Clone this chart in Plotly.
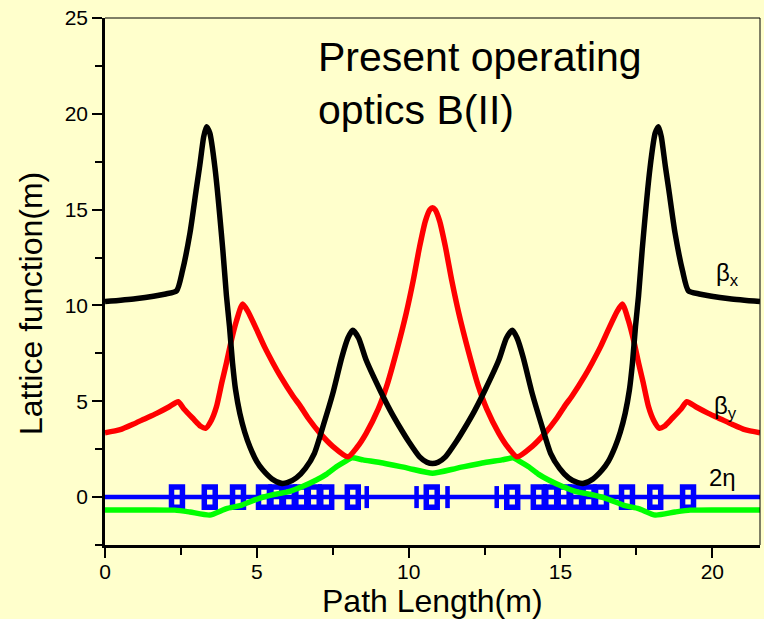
import plotly.graph_objects as go

# ---------------- data ----------------
bx_s = [0, 1.0, 2.0, 2.36, 2.55, 2.8, 3.0, 3.12, 3.25, 3.34, 3.45, 3.62, 3.88, 4.0, 4.1, 4.2, 4.3, 4.44, 4.6,
        4.77, 5.0, 5.2, 5.5, 5.8, 6.0, 6.3, 6.6, 6.9, 7.2, 7.5, 7.8, 8.0, 8.16, 8.35, 8.6, 9.05, 9.4, 9.7, 10.0,
        10.36, 10.6, 10.785, 10.97, 11.21, 11.57, 11.87, 12.17, 12.52, 12.97, 13.22, 13.41, 13.57, 13.77, 14.07,
        14.37, 14.67, 14.97, 15.27, 15.57, 15.77, 16.07, 16.37, 16.57, 16.80, 16.97, 17.13, 17.27, 17.37, 17.47,
        17.57, 17.69, 17.95, 18.12, 18.23, 18.32, 18.45, 18.57, 18.77, 19.02, 19.21, 19.57, 20.57, 21.57]
beta_x = [10.2, 10.35, 10.6, 10.77, 11.8, 13.8, 16.0, 17.3, 18.8, 19.33, 19.0, 17.2, 12.9, 10.5, 8.9, 7.0, 5.6,
          4.37, 3.4, 2.63, 1.85, 1.41, 0.95, 0.72, 0.75, 1.0, 1.5, 2.3, 3.8, 5.4, 7.3, 8.3, 8.7, 8.3, 7.15, 5.6,
          4.5, 3.67, 2.9, 2.1, 1.82, 1.75, 1.82, 2.1, 2.9, 3.67, 4.5, 5.6, 7.15, 8.3, 8.7, 8.3, 7.3, 5.4, 3.8,
          2.3, 1.5, 1.0, 0.75, 0.72, 0.95, 1.41, 1.85, 2.63, 3.4, 4.37, 5.6, 7.0, 8.9, 10.5, 12.9, 17.2, 19.0,
          19.33, 18.8, 17.3, 16.0, 13.8, 11.8, 10.77, 10.6, 10.35, 10.2]

by_s = [0, 0.5, 0.92, 1.3, 1.7, 2.1, 2.41, 2.6, 2.9, 3.15, 3.32, 3.5, 3.67, 3.85, 4.0, 4.15, 4.33, 4.53, 4.7,
        4.99, 5.25, 5.53, 5.76, 6.2, 6.41, 6.7, 7.07, 7.5, 8.0, 8.3, 8.6, 9.0, 9.27, 9.6, 9.92, 10.15, 10.36,
        10.55, 10.7, 10.785, 10.87, 11.02, 11.21, 11.42, 11.65, 11.97, 12.30, 12.57, 12.97, 13.27, 13.57, 14.07,
        14.50, 14.87, 15.16, 15.37, 15.81, 16.04, 16.32, 16.58, 16.87, 17.04, 17.24, 17.42, 17.57, 17.72, 17.90,
        18.07, 18.25, 18.42, 18.67, 18.97, 19.16, 19.47, 19.87, 20.27, 20.65, 21.07, 21.57]
beta_y = [3.36, 3.52, 3.8, 4.08, 4.37, 4.7, 4.98, 4.6, 4.1, 3.7, 3.6, 4.0, 4.71, 6.0, 7.0, 8.1, 9.2, 10.07, 9.7,
          8.75, 7.85, 7.0, 6.35, 5.25, 4.8, 4.1, 3.35, 2.65, 2.1, 2.6, 3.33, 4.6, 5.76, 7.6, 9.6, 11.3, 13.06, 14.4,
          15.0, 15.1, 15.0, 14.4, 13.06, 11.3, 9.6, 7.6, 5.76, 4.6, 3.33, 2.6, 2.1, 2.65, 3.35, 4.1, 4.8, 5.25,
          6.35, 7.0, 7.85, 8.75, 9.7, 10.07, 9.2, 8.1, 7.0, 6.0, 4.71, 4.0, 3.6, 3.7, 4.1, 4.6, 4.98, 4.7, 4.37,
          4.08, 3.8, 3.52, 3.36]

eta_s = [0, 2.3, 2.8, 3.45, 4.0, 4.44, 5.1, 5.6, 6.08, 6.5, 6.96, 7.3, 7.62, 7.9, 8.13, 8.5, 9.15, 10.0, 10.785,
         11.57, 12.42, 13.07, 13.44, 13.67, 13.95, 14.27, 14.61, 15.07, 15.49, 15.97, 16.47, 17.13, 17.57, 18.12,
         18.77, 19.27, 21.57]
eta = [-0.68, -0.68, -0.78, -0.94, -0.6, -0.45, -0.05, 0.15, 0.3, 0.55, 0.89, 1.2, 1.58, 1.85, 2.05, 1.94, 1.78,
       1.5, 1.25, 1.5, 1.78, 1.94, 2.05, 1.85, 1.58, 1.2, 0.89, 0.55, 0.3, 0.15, -0.05, -0.45, -0.6, -0.94, -0.78,
       -0.68, -0.68]

axis_s = [0, 21.57]
axis_v = [0, 0]

# lattice elements (blue): boxes and thin bars
box_s = [2.37, 3.45, 4.38, 5.235, 5.645, 6.055, 6.465, 6.875, 7.285, 8.16, 10.76, 13.41,
         14.285, 14.695, 15.105, 15.515, 15.925, 16.335, 17.19, 18.12, 19.2]
bar_s = [8.62, 10.26, 11.28, 12.9]

x_ticks = [0, 5, 10, 15, 20]
y_ticks = [0, 5, 10, 15, 20, 25]

BG = "#FFFFCC"
BLUE = "#0000FF"

fig = go.Figure()

fig.add_trace(go.Scatter(x=axis_s, y=axis_v, mode="lines",
                         line=dict(color=BLUE, width=4.5), showlegend=False))
fig.add_trace(go.Bar(x=box_s, y=[1.05] * len(box_s), base=-0.525, width=0.36,
                     marker=dict(color="rgba(0,0,0,0)", line=dict(color=BLUE, width=5.5)),
                     showlegend=False))
fig.add_trace(go.Bar(x=bar_s, y=[1.15] * len(bar_s), base=-0.575, width=0.15,
                     marker=dict(color=BLUE, line=dict(width=0)), showlegend=False))
fig.add_trace(go.Scatter(x=eta_s, y=eta, mode="lines", line=dict(color="#00FF00", width=5.5, shape="spline", smoothing=0.5),
                         showlegend=False))
fig.add_trace(go.Scatter(x=by_s, y=beta_y, mode="lines", line=dict(color="#FF0000", width=5.5, shape="spline", smoothing=0.6),
                         showlegend=False))
fig.add_trace(go.Scatter(x=bx_s, y=beta_x, mode="lines", line=dict(color="#000000", width=5.5, shape="spline", smoothing=0.6),
                         showlegend=False))

axis_common = dict(showgrid=False, zeroline=False, showline=True, linecolor="black", linewidth=2.5,
                   ticks="outside", tickcolor="black", tickwidth=2, ticklen=10)
minor = dict(ticks="outside", ticklen=7, tickwidth=2, tickcolor="black", dtick=2.5, tick0=0)

fig.update_layout(
    width=764, height=619,
    margin=dict(l=105, r=4, t=18, b=74),
    paper_bgcolor=BG, plot_bgcolor=BG,
    barmode="overlay",
    font=dict(family="Arial, Liberation Sans, sans-serif", color="black"),
    xaxis=dict(range=[0, 21.57], tickvals=x_ticks, tickfont=dict(size=21), ticklabelstandoff=-4,
               minor=minor, **axis_common),
    yaxis=dict(range=[-2.5, 25], tickvals=y_ticks, tickfont=dict(size=21), minor=minor, **axis_common),
    shapes=[
        dict(type="line", xref="paper", yref="paper", x0=0, x1=1, y0=1, y1=1, line=dict(color="black", width=1)),
        dict(type="line", xref="paper", yref="paper", x0=1, x1=1, y0=0, y1=1, line=dict(color="black", width=1)),
    ],
    annotations=[
        dict(text="Present operating<br>optics B(II)", xref="paper", yref="paper", x=(316 - 105) / 655,
             y=1 - (32 - 18) / 527, xanchor="left", yanchor="top", align="left", showarrow=False,
             font=dict(size=41)),
        dict(text="Path Length(m)", xref="paper", yref="paper", x=0.5, y=-(601 - 545) / 527,
             xanchor="center", yanchor="middle", showarrow=False, font=dict(size=32)),
        dict(text="Lattice function(m)", xref="paper", yref="paper", x=-(105 - 31) / 655,
             y=(545 - 304) / 527, xanchor="center", yanchor="middle", textangle=-90, showarrow=False,
             font=dict(size=32)),
        dict(text="β<sub>x</sub>", xref="paper", yref="paper", x=(727 - 105) / 655, y=(545 - 274) / 527,
             xanchor="center", yanchor="middle", showarrow=False, font=dict(size=24)),
        dict(text="β<sub>y</sub>", xref="paper", yref="paper", x=(725 - 105) / 655, y=(545 - 407) / 527,
             xanchor="center", yanchor="middle", showarrow=False, font=dict(size=24)),
        dict(text="2η", xref="paper", yref="paper", x=(722 - 105) / 655, y=(545 - 478) / 527,
             xanchor="center", yanchor="middle", showarrow=False, font=dict(size=24)),
    ],
)

fig.write_html("out.html", config={"displayModeBar": False},
               post_script="document.body.style.margin='0';document.body.style.overflow='hidden';")
